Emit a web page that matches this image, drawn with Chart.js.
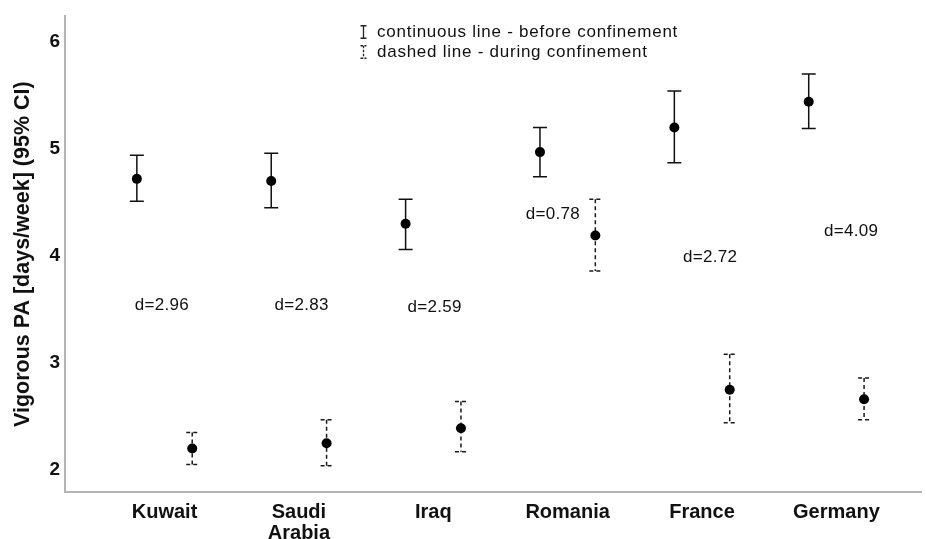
<!DOCTYPE html>
<html>
<head>
<meta charset="utf-8">
<script src="https://cdn.jsdelivr.net/npm/chart.js@4/dist/chart.umd.min.js"></script>
<style>
  html, body { margin: 0; padding: 0; background: #fff; }
  #wrap { position: relative; width: 926px; height: 539px; }
  canvas { display: block; }
  .legend { position: absolute; left: 360px; top: 22px; font-family: 'Liberation Sans', Arial, sans-serif; font-size: 17px; letter-spacing: 0.75px; color: #111; }
  .legend div { height: 20px; line-height: 20px; white-space: nowrap; display: flex; align-items: center; }
  .legend svg { margin-right: 10px; }
  .dlab { position: absolute; font-family: 'Liberation Sans', Arial, sans-serif; font-size: 17px; letter-spacing: 0.3px; color: #111; transform: translate(-50%, -50%); white-space: nowrap; }
</style>
</head>
<body>
<div id="wrap">
  <canvas id="c" width="926" height="539"></canvas>
  <div class="legend">
    <div><svg width="7" height="14" viewBox="0 0 7 14"><path d="M0.5 0.75 H6.5 M3.5 0.75 V13.25 M0.5 13.25 H6.5" stroke="#222" stroke-width="1.3" fill="none"/></svg>continuous line - before confinement</div>
    <div><svg width="7" height="14" viewBox="0 0 7 14"><path d="M0.5 0.75 H6.5 M3.5 0.75 V13.25 M0.5 13.25 H6.5" stroke="#222" stroke-width="1.3" stroke-dasharray="2.5,1.5" fill="none"/></svg>dashed line - during confinement</div>
  </div>
</div>
<script>
// ---- data ----
const categories = ['Kuwait', ['Saudi', 'Arabia'], 'Iraq', 'Romania', 'France', 'Germany'];
const beforeMean = [4.72, 4.70, 4.30, 4.97, 5.20, 5.44];
const beforeLow  = [4.51, 4.45, 4.06, 4.74, 4.87, 5.19];
const beforeHigh = [4.94, 4.96, 4.53, 5.20, 5.54, 5.70];
const duringMean = [2.20, 2.25, 2.39, 4.19, 2.75, 2.66];
const duringLow  = [2.05, 2.04, 2.17, 3.86, 2.44, 2.47];
const duringHigh = [2.35, 2.47, 2.64, 4.53, 3.08, 2.86];
const effectLabels = ['d=2.96', 'd=2.83', 'd=2.59', 'd=0.78', 'd=2.72', 'd=4.09'];
const yTicks = [2, 3, 4, 5, 6];
const yTitle = 'Vigorous PA [days/week] (95% CI)';

// label anchors (data units)
const effectLabelX = [-0.02, 1.02, 2.01, 2.89, 4.06, 5.11];
const effectLabelY = [3.54, 3.54, 3.52, 4.39, 3.99, 4.23];

const groupOffset = 0.206;
const beforePts = beforeMean.map((v, i) => ({ x: i - groupOffset, y: v, lo: beforeLow[i], hi: beforeHigh[i] }));
const duringPts = duringMean.map((v, i) => ({ x: i + groupOffset, y: v, lo: duringLow[i], hi: duringHigh[i] }));

const FONT = "'Liberation Sans', Arial, sans-serif";
Chart.defaults.font.family = FONT;
Chart.defaults.color = '#111';

const errorBars = {
  id: 'errorBars',
  beforeDatasetsDraw(chart) {
    const ctx = chart.ctx;
    const xs = chart.scales.x, ys = chart.scales.y;
    chart.data.datasets.forEach(ds => {
      ctx.save();
      ctx.strokeStyle = ds.barColor;
      ctx.lineWidth = 1.5;
      ctx.setLineDash(ds.dash);
      const half = ds.capHalf;
      ds.data.forEach(p => {
        const x = xs.getPixelForValue(p.x);
        const yl = ys.getPixelForValue(p.lo);
        const yh = ys.getPixelForValue(p.hi);
        ctx.beginPath();
        ctx.moveTo(x, yh); ctx.lineTo(x, yl);
        ctx.moveTo(x - half, yh); ctx.lineTo(x + half, yh);
        ctx.moveTo(x - half, yl); ctx.lineTo(x + half, yl);
        ctx.stroke();
      });
      ctx.restore();
    });
  }
};

const labelPlacer = {
  id: 'labelPlacer',
  afterRender(chart) {
    const wrap = document.getElementById('wrap');
    effectLabels.forEach((t, i) => {
      let el = document.getElementById('dl' + i);
      if (!el) {
        el = document.createElement('div');
        el.id = 'dl' + i; el.className = 'dlab'; el.textContent = t;
        wrap.appendChild(el);
      }
      el.style.left = chart.scales.x.getPixelForValue(effectLabelX[i]) + 'px';
      el.style.top = chart.scales.y.getPixelForValue(effectLabelY[i]) + 'px';
    });
  }
};

new Chart(document.getElementById('c'), {
  type: 'scatter',
  data: {
    datasets: [
      { label: 'before', data: beforePts, pointRadius: 5, pointHoverRadius: 5, backgroundColor: '#000', borderColor: '#000', borderWidth: 0, barColor: '#111', dash: [], capHalf: 7 },
      { label: 'during', data: duringPts, pointRadius: 5, pointHoverRadius: 5, backgroundColor: '#000', borderColor: '#000', borderWidth: 0, barColor: '#1a1a1a', dash: [4, 3], capHalf: 6 }
    ]
  },
  options: {
    responsive: false,
    animation: false,
    events: [],
    layout: { padding: { top: 16, right: 1, left: 0, bottom: 0 } },
    plugins: { legend: { display: false }, tooltip: { enabled: false } },
    scales: {
      x: {
        type: 'linear',
        min: -100 / 135,
        max: 760 / 135,
        grid: { display: false },
        border: { display: true, color: '#b4b4b4', width: 2 },
        afterBuildTicks(scale) { scale.ticks = categories.map((c, i) => ({ value: i })); },
        afterFit(scale) { scale.height = 47; },
        ticks: {
          autoSkip: false, maxRotation: 0, padding: 2,
          font: { size: 20, weight: 'bold', lineHeight: 1.05 }, color: '#111',
          callback: (v) => categories[v]
        }
      },
      y: {
        min: 1.794,
        max: 6.238,
        grid: { display: false, drawTicks: false },
        border: { display: true, color: '#b4b4b4', width: 2 },
        afterBuildTicks(scale) { scale.ticks = yTicks.map(v => ({ value: v })); },
        afterFit(scale) { scale.width = 65; },
        ticks: { padding: 5, font: { size: 19, weight: 'bold' }, color: '#111' },
        title: { display: true, text: yTitle, font: { size: 21.5, weight: 'bold' }, color: '#111', padding: { top: 10, bottom: 0 } }
      }
    }
  },
  plugins: [errorBars, labelPlacer]
});
</script>
</body>
</html>
